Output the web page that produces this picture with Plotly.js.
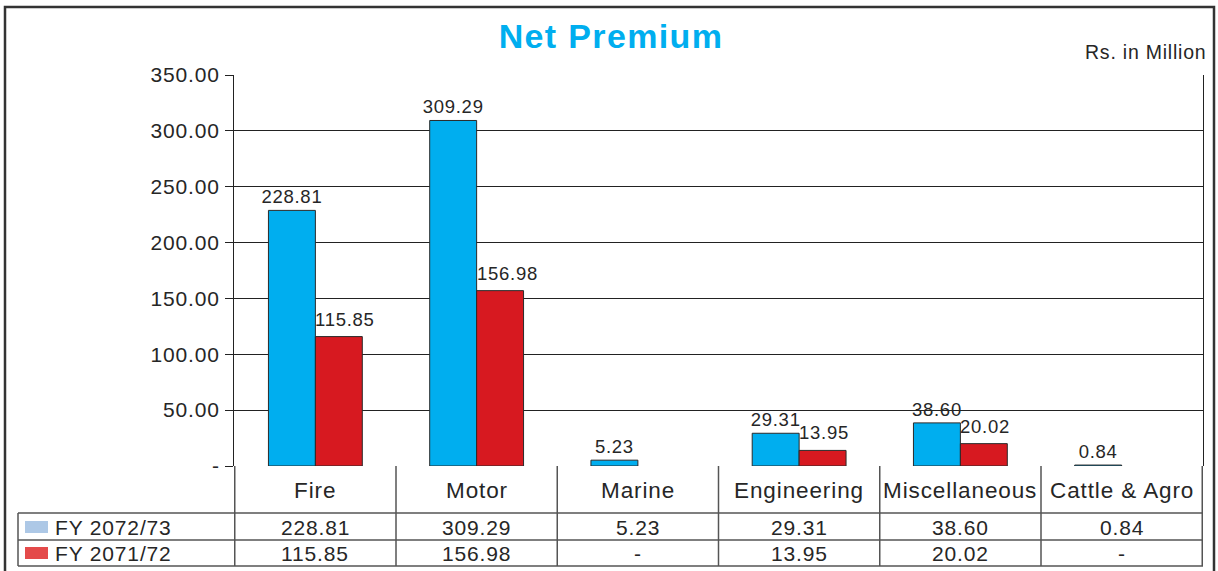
<!DOCTYPE html>
<html>
<head>
<meta charset="utf-8">
<script src="https://cdn.plot.ly/plotly-3.0.1.min.js"></script>
<style>
  html, body { margin: 0; padding: 0; background: #fff; }
  #chart { width: 1218px; height: 571px; }
  svg text { letter-spacing: 0.04em; }
</style>
</head>
<body>
<div id="chart"></div>
<script>
// ---- data ----
const categories = ['Fire', 'Motor', 'Marine', 'Engineering', 'Miscellaneous', 'Cattle & Agro'];
const seriesNames = ['FY 2072/73', 'FY 2071/72'];
const fy7273 = [228.81, 309.29, 5.23, 29.31, 38.60, 0.84];
const fy7172 = [115.85, 156.98, null, 13.95, 20.02, null];
const yTickVals = [0, 50, 100, 150, 200, 250, 300, 350];
const unitLabel = 'Rs. in Million';
const chartTitle = 'Net Premium';

// ---- styling ----
const FONT = 'Liberation Sans, Arial, sans-serif';
const TXT = '#262626';
const barColors = ['#00AEEF', '#D71920'];
const swatchColors = ['#ADC8E6', '#E44A4A'];
const W = 1218, H = 571;
const L = 234, R = 1203, T = 75, B = 466;
const py = p => (B - p) / (B - T);      // pixel y -> paper y
const px = p => (p - L) / (R - L);      // pixel x -> paper x

const fmt = v => (v === null || v === undefined) ? '-' : v.toFixed(2);
const yTickText = yTickVals.map(v => v === 0 ? '-' : v.toFixed(2));

const traces = [fy7273, fy7172].map((vals, i) => ({
  type: 'bar',
  name: seriesNames[i],
  x: categories,
  y: vals,
  marker: { color: barColors[i], line: { color: '#2a2a2a', width: 1 } },
  texttemplate: i === 0 ? '%{y:.2f}' : '',
  textposition: i === 0 ? 'outside' : 'none',
  constraintext: 'none',
  cliponaxis: false,
  textfont: { family: FONT, size: 18.5, color: TXT },
  hoverinfo: 'x+y'
}));

const shapes = [];
const annotations = [];
const tableLine = { color: '#555', width: 1.5 };
const rowTop = 513, rowMid = 540, rowBot = 566;

// second-series value labels: left-aligned at the bar's left edge (category centre)
fy7172.forEach((v, i) => {
  if (v === null) return;
  annotations.push({ xref: 'x', yref: 'y', x: categories[i], y: v, text: v.toFixed(2),
    showarrow: false, xanchor: 'left', yanchor: 'bottom', yshift: 5, xshift: -2,
    font: { family: FONT, size: 18.5, color: TXT } });
});

// vertical column lines of the data table
for (let i = 0; i <= categories.length; i++) {
  shapes.push({ type: 'line', xref: 'x', yref: 'paper', x0: i - 0.5, x1: i - 0.5,
    y0: 0, y1: py(rowBot), line: tableLine });
}
// legend column left edge
shapes.push({ type: 'line', xref: 'paper', yref: 'paper', x0: px(18), x1: px(18),
  y0: py(rowTop), y1: py(rowBot), line: tableLine });
// horizontal row lines
[rowTop, rowMid, rowBot].forEach(p => {
  shapes.push({ type: 'line', xref: 'paper', yref: 'paper', x0: px(18), x1: 1,
    y0: py(p), y1: py(p), line: tableLine });
});
// outer frame
shapes.push({ type: 'rect', xref: 'paper', yref: 'paper', x0: px(5), x1: px(1214),
  y0: py(575), y1: py(7), line: { color: '#333', width: 2.5 }, fillcolor: 'rgba(0,0,0,0)' });

// category labels
categories.forEach(c => {
  annotations.push({ xref: 'x', yref: 'paper', x: c, y: py(490), text: c, showarrow: false,
    xanchor: 'center', yanchor: 'middle', font: { family: FONT, size: 22.5, color: TXT } });
});
// table values
[fy7273, fy7172].forEach((vals, r) => {
  const yc = r === 0 ? 527 : 553;
  vals.forEach((v, i) => {
    annotations.push({ xref: 'x', yref: 'paper', x: categories[i], y: py(yc), text: fmt(v),
      showarrow: false, xanchor: 'center', yanchor: 'middle',
      font: { family: FONT, size: 21, color: TXT } });
  });
  // legend swatch + name
  shapes.push({ type: 'rect', xref: 'paper', yref: 'paper', x0: px(25), x1: px(48),
    y0: py(yc + 6), y1: py(yc - 6), line: { width: 0 }, fillcolor: swatchColors[r] });
  annotations.push({ xref: 'paper', yref: 'paper', x: px(53), y: py(yc), text: seriesNames[r],
    showarrow: false, xanchor: 'left', yanchor: 'middle',
    font: { family: FONT, size: 21, color: TXT } });
});
// unit label
annotations.push({ xref: 'paper', yref: 'paper', x: px(1208), y: py(52), text: unitLabel,
  showarrow: false, xanchor: 'right', yanchor: 'middle',
  font: { family: FONT, size: 19.5, color: TXT } });

const layout = {
  width: W, height: H,
  margin: { l: L, r: W - R, t: T, b: H - B, pad: 0 },
  paper_bgcolor: '#fff', plot_bgcolor: '#fff',
  showlegend: false,
  title: { text: '<b>' + chartTitle + '</b>', font: { family: FONT, size: 34, color: '#00AEEF' },
    xref: 'container', yref: 'container', x: 611 / W, xanchor: 'center',
    y: 1 - 36 / H, yanchor: 'middle' },
  bargap: 0.418, bargroupgap: 0,
  xaxis: { type: 'category', showticklabels: false, ticks: '', showgrid: false,
    zeroline: false, showline: false, fixedrange: true },
  yaxis: { range: [0, 350], tickvals: yTickVals, ticktext: yTickText,
    ticks: 'outside', ticklen: 8, tickcolor: '#222', tickwidth: 1,
    showgrid: true, gridcolor: '#222', gridwidth: 1, zeroline: false,
    showline: true, linecolor: '#222', linewidth: 1, mirror: true,
    tickfont: { family: FONT, size: 21, color: TXT }, ticklabelstandoff: 1, fixedrange: true },
  shapes: shapes,
  annotations: annotations
};

Plotly.newPlot('chart', traces, layout, { displayModeBar: false, staticPlot: true });
</script>
</body>
</html>
